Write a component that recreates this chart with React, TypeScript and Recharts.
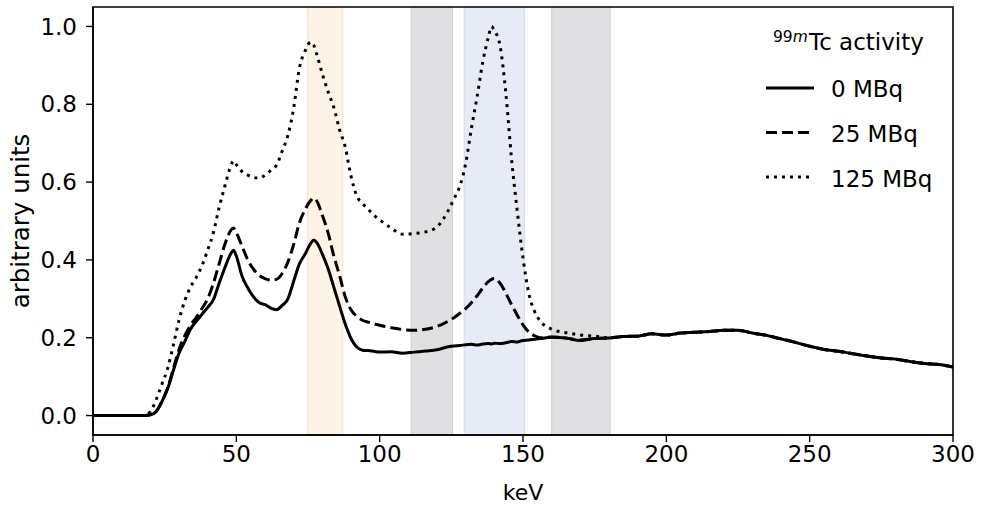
import React from 'react';
import { LineChart, Line, XAxis, YAxis, ReferenceArea, Label } from 'recharts';

const keV = [
  0, 5, 10, 15, 18,
  20, 22, 24, 26, 28, 30, 32, 34, 36, 38, 40, 42, 44, 46, 48,
  49,
  50, 52, 54, 56, 58, 60, 62, 64, 66, 68, 70, 72, 74, 76,
  77,
  78, 80, 82, 84, 86, 88, 90, 92, 94, 96, 98, 100,
  104, 108, 112, 116, 120, 124,
  126, 128, 130, 132, 134, 136, 138,
  139,
  140, 142, 144, 146, 148, 150, 152, 154, 156,
  160, 165, 170, 175, 180, 185, 190, 195, 200, 205, 210, 215, 220, 225, 230,
  235, 240, 245, 250, 255, 260, 265, 270, 275, 280, 285, 290, 295, 300,
];

const mbq0 = [
  0, 0, 0, 0, 0,
  0.002, 0.01, 0.035, 0.068, 0.115, 0.16, 0.19, 0.222, 0.242, 0.26, 0.278, 0.298, 0.34, 0.38, 0.415,
  0.425,
  0.41, 0.358, 0.328, 0.305, 0.29, 0.285, 0.276, 0.272, 0.283, 0.3, 0.345, 0.39, 0.415, 0.443,
  0.451,
  0.445, 0.415, 0.378, 0.33, 0.282, 0.235, 0.198, 0.176, 0.168, 0.167, 0.165, 0.163,
  0.164, 0.16, 0.163, 0.166, 0.169, 0.177,
  0.179, 0.18, 0.182, 0.183, 0.181, 0.184, 0.185,
  0.184,
  0.186, 0.185, 0.187, 0.19, 0.189, 0.193, 0.194, 0.196, 0.198,
  0.201, 0.199, 0.193, 0.198, 0.199, 0.203, 0.204, 0.21, 0.207, 0.212, 0.214, 0.216, 0.219, 0.219, 0.212,
  0.206, 0.197, 0.188, 0.178, 0.17, 0.165, 0.159, 0.153, 0.148, 0.145, 0.139, 0.134, 0.131, 0.125,
];

const mbq25 = [
  0, 0, 0, 0, 0,
  0.002, 0.01, 0.036, 0.07, 0.12, 0.17, 0.205, 0.232, 0.252, 0.275, 0.3, 0.34, 0.39, 0.44, 0.475,
  0.482,
  0.47, 0.435, 0.4, 0.376, 0.36, 0.352, 0.348, 0.35, 0.365, 0.395, 0.44, 0.495, 0.53, 0.553,
  0.559,
  0.552, 0.515, 0.47, 0.41, 0.36, 0.305, 0.272, 0.255, 0.245, 0.24, 0.236, 0.232,
  0.226, 0.221, 0.219, 0.222, 0.229, 0.243,
  0.252, 0.263, 0.275, 0.29, 0.308, 0.328, 0.345,
  0.35,
  0.352, 0.34, 0.315, 0.285, 0.258, 0.233, 0.215, 0.205, 0.2,
  0.202, 0.199, 0.194, 0.198, 0.199, 0.203, 0.204, 0.21, 0.207, 0.212, 0.214, 0.216, 0.219, 0.219, 0.212,
  0.206, 0.197, 0.188, 0.178, 0.17, 0.165, 0.159, 0.153, 0.148, 0.145, 0.139, 0.134, 0.131, 0.125,
];

const mbq125 = [
  0, 0, 0, 0, 0,
  0.01, 0.04, 0.08, 0.12, 0.18, 0.245, 0.295, 0.33, 0.355, 0.385, 0.425, 0.47, 0.535, 0.59, 0.64,
  0.655,
  0.645, 0.627, 0.618, 0.612, 0.61, 0.618, 0.63, 0.643, 0.68, 0.72, 0.79, 0.893, 0.937, 0.96,
  0.952,
  0.93, 0.878, 0.832, 0.792, 0.735, 0.69, 0.615, 0.565, 0.545, 0.53, 0.515, 0.503,
  0.482, 0.466, 0.468, 0.472, 0.485, 0.528,
  0.558, 0.59, 0.648, 0.738, 0.82, 0.91, 0.975,
  1.0,
  0.99, 0.95, 0.83, 0.66, 0.525, 0.405, 0.315, 0.268, 0.243,
  0.222, 0.213, 0.207, 0.204, 0.2, 0.203, 0.204, 0.21, 0.207, 0.212, 0.214, 0.216, 0.219, 0.219, 0.212,
  0.206, 0.197, 0.188, 0.178, 0.17, 0.165, 0.159, 0.153, 0.148, 0.145, 0.139, 0.134, 0.131, 0.125,
];

const xTicks = [0, 50, 100, 150, 200, 250, 300];
const yTicks = [0, 0.2, 0.4, 0.6, 0.8, 1.0];
const bandLow = [74.9, 111, 129.5, 160];
const bandHigh = [87.1, 125.4, 150.5, 180.4];
const seriesLabels = ['0 MBq', '25 MBq', '125 MBq'];

const FONT = '"DejaVu Sans", sans-serif';
const bandFills = ['#fdf3e6', '#e0e0e2', '#e6ebf6', '#e0e0e2'];
const bandStrokes = ['#f7e6cf', '#d3d3d5', '#d5ddf0', '#d3d3d5'];
const dashes = [undefined, '11 5', '3 5'];

const data = keV.map((k, i) => ({ keV: k, a: mbq0[i], b: mbq25[i], c: mbq125[i] }));
const keys = ['a', 'b', 'c'];

export default function App() {
  return (
    <div style={{ position: 'absolute', left: 0, top: 0, width: 981, height: 506, background: '#fff' }}>
      <LineChart
        width={981}
        height={506}
        data={data}
        margin={{ top: 7, right: 28, bottom: 0, left: 0 }}
      >
        {bandLow.map((lo, i) => (
          <ReferenceArea
            key={i}
            x1={lo}
            x2={bandHigh[i]}
            y1={-0.05}
            y2={1.05}
            fill={bandFills[i]}
            fillOpacity={1}
            stroke={bandStrokes[i]}
            strokeWidth={1.2}
          />
        ))}
        <ReferenceArea x1={0} x2={300} y1={-0.05} y2={1.05} fill="none" stroke="#000" strokeWidth={1.6} />
        <XAxis
          dataKey="keV"
          type="number"
          domain={[0, 300]}
          ticks={xTicks}
          allowDataOverflow
          height={71}
          tickSize={7}
          tickMargin={4}
          axisLine={{ stroke: '#000', strokeWidth: 1.6 }}
          tickLine={{ stroke: '#000', strokeWidth: 1.4 }}
          tick={{ fill: '#000', fontSize: 23, fontFamily: FONT }}
        >
          <Label
            content={(p: any) => {
              const vb = p.viewBox || { x: 93, y: 435, width: 860, height: 71 };
              return (
                <text
                  x={vb.x + vb.width / 2}
                  y={vb.y + 65}
                  textAnchor="middle"
                  fontSize={22}
                  fontFamily={FONT}
                  fill="#000"
                >
                  keV
                </text>
              );
            }}
          />
        </XAxis>
        <YAxis
          type="number"
          domain={[-0.05, 1.05]}
          ticks={yTicks}
          allowDataOverflow
          width={93}
          tickSize={7}
          tickMargin={9}
          tickFormatter={(v: number) => v.toFixed(1)}
          axisLine={{ stroke: '#000', strokeWidth: 1.6 }}
          tickLine={{ stroke: '#000', strokeWidth: 1.4 }}
          tick={{ fill: '#000', fontSize: 23, fontFamily: FONT }}
        >
          <Label
            content={(p: any) => {
              const vb = p.viewBox || { x: 0, y: 7, width: 93, height: 428 };
              const cx = vb.x + 29;
              const cy = vb.y + vb.height / 2;
              return (
                <text
                  x={cx}
                  y={cy}
                  transform={`rotate(-90, ${cx}, ${cy})`}
                  textAnchor="middle"
                  fontSize={24.5}
                  fontFamily={FONT}
                  fill="#000"
                >
                  arbitrary units
                </text>
              );
            }}
          />
        </YAxis>
        {keys.map((k, i) => (
          <Line
            key={k}
            dataKey={k}
            type="monotone"
            stroke="#000"
            strokeWidth={3}
            strokeDasharray={dashes[i]}
            dot={false}
            activeDot={false}
            isAnimationActive={false}
          />
        ))}
      </LineChart>
      <svg
        width={981}
        height={506}
        style={{ position: 'absolute', left: 0, top: 0, pointerEvents: 'none' }}
      >
        <text x={773} y={42} fontSize={15.5} fontFamily={FONT} fill="#000">
          99<tspan fontStyle="italic">m</tspan>
        </text>
        <text x={809} y={50} fontSize={23} fontFamily={FONT} fill="#000">
          Tc activity
        </text>
        {seriesLabels.map((lab, i) => (
          <g key={lab}>
            <line
              x1={766}
              x2={814}
              y1={88 + i * 44.5}
              y2={88 + i * 44.5}
              stroke="#000"
              strokeWidth={3}
              strokeDasharray={dashes[i]}
            />
            <text x={831} y={97 + i * 45} fontSize={23} fontFamily={FONT} fill="#000">
              {lab}
            </text>
          </g>
        ))}
      </svg>
    </div>
  );
}
